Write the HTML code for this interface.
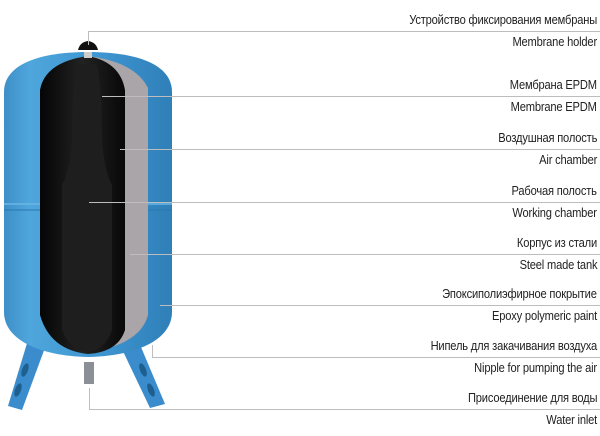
<!DOCTYPE html>
<html><head><meta charset="utf-8"><style>
body{margin:0;width:600px;height:436px;background:#fff;overflow:hidden;position:relative;font-family:"Liberation Sans Narrow","Liberation Sans",sans-serif;}
.t{position:absolute;right:3px;font-size:12.5px;color:#222;white-space:nowrap;letter-spacing:-0.2px;transform:scaleX(0.89);transform-origin:right center}
svg{position:absolute;left:0;top:0}
</style></head><body>
<svg width="600" height="436">
<defs>
<linearGradient id="b" x1="0" x2="1"><stop offset="0" stop-color="#3e8fc8"/><stop offset="0.15" stop-color="#4ea6dc"/><stop offset="0.6" stop-color="#3d94cf"/><stop offset="1" stop-color="#2f7fb8"/></linearGradient>
<linearGradient id="k" x1="0" x2="1"><stop offset="0" stop-color="#050505"/><stop offset="0.5" stop-color="#222"/><stop offset="1" stop-color="#080808"/></linearGradient>
</defs>
<polygon points="28,340 46,345 22,410 8,406" fill="#3b8ccc"/>
<polygon points="120,345 138,340 165,404 150,408" fill="#3b8ccc"/>
<ellipse cx="25" cy="370" rx="3" ry="7" fill="#1d5f8f" transform="rotate(20 25 370)"/>
<ellipse cx="18" cy="390" rx="3" ry="7" fill="#1d5f8f" transform="rotate(20 18 390)"/>
<ellipse cx="143" cy="370" rx="3" ry="7" fill="#1d5f8f" transform="rotate(-22 143 370)"/>
<ellipse cx="151" cy="390" rx="3" ry="7" fill="#1d5f8f" transform="rotate(-22 151 390)"/>
<rect x="84" y="362" width="10" height="22" fill="#8a9096"/>
<path d="M4,92 C4,64 40,52 88,52 C136,52 172,64 172,92 L172,312 C172,340 136,356 88,357 C40,356 4,340 4,312 Z" fill="url(#b)"/>
<line x1="4" y1="204" x2="172" y2="204" stroke="#6bb7e5" stroke-width="1.5"/>
<line x1="4" y1="210" x2="172" y2="210" stroke="#2b77ae" stroke-width="1"/>
<path d="M88,56 Q135,62 148,88 L148,315 Q140,345 88,352 Z" fill="#a9a5a8"/>
<path d="M88,56 Q45,62 40,90 L40,315 Q50,350 88,354 Q118,352 125,330 L125,90 Q120,62 88,56 Z" fill="url(#k)"/>
<path d="M78,64 Q72,80 72,140 Q70,170 62,185 L62,330 Q70,350 88,352 Q105,350 112,330 L112,185 Q104,170 102,140 Q102,80 96,64 Z" fill="#1e1e1e"/>
<path d="M78,50 Q80,42 88,41 Q96,42 98,50 Z" fill="#111"/>
<rect x="84" y="52" width="8" height="6" fill="#ccc"/>
<g stroke="#bdbdbd" stroke-width="1" fill="none">
<polyline points="88.5,45 88.5,31.5 600,31.5"/>
<line x1="102" y1="96.5" x2="600" y2="96.5"/>
<line x1="120" y1="149.5" x2="600" y2="149.5"/>
<line x1="89" y1="202.5" x2="600" y2="202.5"/>
<line x1="130" y1="254.5" x2="600" y2="254.5"/>
<line x1="160" y1="305.5" x2="600" y2="305.5"/>
<polyline points="152.5,345 152.5,357.5 600,357.5"/>
<polyline points="89.5,388 89.5,409.5 600,409.5"/>
</g>
</svg>
<div class="t" style="top:13px">Устройство фиксирования мембраны</div>
<div class="t" style="top:35px">Membrane holder</div>
<div class="t" style="top:78px">Мембрана EPDM</div>
<div class="t" style="top:100px">Membrane EPDM</div>
<div class="t" style="top:131px">Воздушная полость</div>
<div class="t" style="top:153px">Air chamber</div>
<div class="t" style="top:184px">Рабочая полость</div>
<div class="t" style="top:206px">Working chamber</div>
<div class="t" style="top:236px">Корпус из стали</div>
<div class="t" style="top:258px">Steel made tank</div>
<div class="t" style="top:287px">Эпоксиполиэфирное покрытие</div>
<div class="t" style="top:309px">Epoxy polymeric paint</div>
<div class="t" style="top:339px">Нипель для закачивания воздуха</div>
<div class="t" style="top:361px">Nipple for pumping the air</div>
<div class="t" style="top:391px">Присоединение для воды</div>
<div class="t" style="top:413px">Water inlet</div>
</body></html>
